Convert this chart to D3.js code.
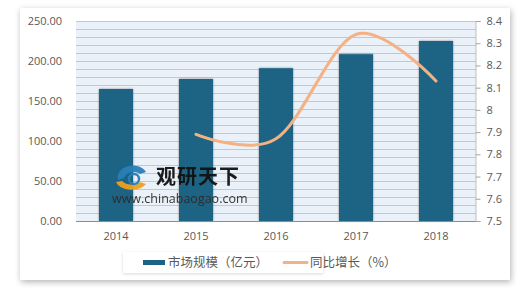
<!doctype html>
<html>
<head>
<meta charset="utf-8">
<script src="https://cdn.jsdelivr.net/npm/d3@7"></script>
<style>
  body { margin: 0; background: #fff; }
  text { font-family: "Open Sans", sans-serif; fill: #595959; }
  .cn { font-family: "Noto Sans CJK SC", sans-serif; }
</style>
</head>
<body>
<script>
// data
var years = ["2014", "2015", "2016", "2017", "2018"];
var marketSize = [165, 177.5, 191, 208.5, 225];      // 市场规模（亿元）
var growth = [null, 7.89, 7.87, 8.34, 8.13];          // 同比增长（%）
var leftTicks = [0, 50, 100, 150, 200, 250];
var rightTicks = [7.5, 7.6, 7.7, 7.8, 7.9, 8, 8.1, 8.2, 8.3, 8.4];

var W = 520, H = 290;
var plot = {left: 76, right: 476, top: 21, bottom: 221};

var svg = d3.select("body").append("svg")
    .attr("width", W).attr("height", H);

var defs = svg.append("defs");
var f = defs.append("filter").attr("id", "card").attr("x", "-5%").attr("y", "-5%").attr("width", "110%").attr("height", "115%");
f.append("feDropShadow").attr("dx", 1).attr("dy", 2).attr("stdDeviation", 3).attr("flood-color", "#000").attr("flood-opacity", 0.3);
var fb = defs.append("filter").attr("id", "barsh").attr("x", "-20%").attr("y", "-5%").attr("width", "140%").attr("height", "110%");
fb.append("feDropShadow").attr("dx", 0).attr("dy", 0).attr("stdDeviation", 1.2).attr("flood-color", "#000").attr("flood-opacity", 0.45);

// card
svg.append("rect")
    .attr("x", 20).attr("y", 8).attr("width", 490).attr("height", 272)
    .attr("fill", "#fff").attr("filter", "url(#card)");

var x = d3.scaleBand().domain(years).range([plot.left, plot.right])
    .paddingInner(0.575).paddingOuter(0.2875);
var yL = d3.scaleLinear().domain([0, 250]).range([plot.bottom, plot.top]);
var yR = d3.scaleLinear().domain([7.5, 8.4]).range([plot.bottom, plot.top]);

// plot background
svg.append("rect")
    .attr("x", plot.left).attr("y", plot.top)
    .attr("width", plot.right - plot.left).attr("height", plot.bottom - plot.top)
    .attr("fill", "#eaf1f8");

// grid lines every 10
svg.append("g").selectAll("line")
    .data(d3.range(10, 251, 10))
  .enter().append("line")
    .attr("x1", plot.left).attr("x2", plot.right)
    .attr("y1", function(d) { return yL(d) + 0.5; })
    .attr("y2", function(d) { return yL(d) + 0.5; })
    .attr("stroke", "#c4c8cd").attr("stroke-width", 1);

// bars
svg.append("g").selectAll("rect")
    .data(marketSize)
  .enter().append("rect")
    .attr("x", function(d, i) { return x(years[i]); })
    .attr("y", function(d) { return yL(d); })
    .attr("width", x.bandwidth())
    .attr("height", function(d) { return plot.bottom - yL(d); })
    .attr("fill", "#1c6384")
    .attr("filter", "url(#barsh)");

// bottom axis line
svg.append("line")
    .attr("x1", plot.left).attr("x2", plot.right)
    .attr("y1", plot.bottom + 0.5).attr("y2", plot.bottom + 0.5)
    .attr("stroke", "#8c8c8c");

// left axis labels
var gl = svg.append("g")
    .attr("transform", "translate(" + (plot.left - 14) + ",0)")
    .call(d3.axisLeft(yL).tickValues(leftTicks).tickFormat(d3.format(".2f")).tickSize(0).tickPadding(0));
gl.select(".domain").remove();
gl.selectAll("text").attr("font-size", 11).attr("font-family", "Open Sans").attr("fill", "#595959");

// right axis
var gr = svg.append("g")
    .attr("transform", "translate(" + (plot.right - 0.5) + ",0)")
    .call(d3.axisRight(yR).tickValues(rightTicks).tickFormat(function(d) { return String(+d.toFixed(1)); }).tickSize(5).tickPadding(6));
gr.select(".domain").attr("stroke", "#bfbfbf");
gr.selectAll("line").attr("stroke", "#a6a6a6");
gr.selectAll("text").attr("font-size", 11).attr("font-family", "Open Sans").attr("fill", "#595959");

// x labels
var gx = svg.append("g")
    .attr("transform", "translate(0," + plot.bottom + ")")
    .call(d3.axisBottom(x).tickSize(0).tickPadding(11));
gx.select(".domain").remove();
gx.selectAll("text").attr("font-size", 11).attr("font-family", "Open Sans").attr("fill", "#595959");

// watermark
var wm = svg.append("g").attr("opacity", 0.95);
wm.append("path")
    .attr("d", "M118,180 A15,12 0 0 1 146,172 L140,174 A10,8 0 0 0 124,178 Z")
    .attr("fill", "#2a7fb8");
wm.append("path")
    .attr("d", "M116,182 A16,10 0 0 0 146,184 L140,182 A11,7 0 0 1 122,181 Z")
    .attr("fill", "#f0a020");
wm.append("circle").attr("cx", 134).attr("cy", 179).attr("r", 5).attr("fill", "none")
    .attr("stroke", "#2a7fb8").attr("stroke-width", 2.5);
wm.append("text").attr("class", "cn")
    .attr("x", 156).attr("y", 184)
    .attr("font-size", 20).attr("font-weight", "bold")
    .style("fill", "#111").attr("letter-spacing", 1)
    .text("观研天下");
wm.append("text")
    .attr("x", 112).attr("y", 203)
    .attr("font-size", 12.5).attr("font-family", "Liberation Sans")
    .style("fill", "#2b2b2b")
    .text("www.chinabaogao.com");

// growth line
var line = d3.line()
    .defined(function(d) { return d != null; })
    .x(function(d, i) { return x(years[i]) + x.bandwidth() / 2; })
    .y(function(d) { return yR(d); })
    .curve(d3.curveCardinal.tension(0));

svg.append("path")
    .datum(growth)
    .attr("d", line)
    .attr("fill", "none")
    .attr("stroke", "#f4b183")
    .attr("stroke-width", 3)
    .attr("stroke-linecap", "round");

// legend
var fl = defs.append("filter").attr("id", "legsh").attr("x", "-5%").attr("y", "-20%").attr("width", "110%").attr("height", "160%");
fl.append("feDropShadow").attr("dx", 0).attr("dy", 1).attr("stdDeviation", 1.5).attr("flood-color", "#000").attr("flood-opacity", 0.15);
svg.append("rect")
    .attr("x", 123).attr("y", 252).attr("width", 200).attr("height", 21)
    .attr("fill", "#fff").attr("filter", "url(#legsh)");

svg.append("rect")
    .attr("x", 143).attr("y", 260).attr("width", 22).attr("height", 5)
    .attr("fill", "#1c6384");
svg.append("text").attr("class", "cn")
    .attr("x", 168).attr("y", 267)
    .attr("font-size", 12.5)
    .text("市场规模（亿元）");

svg.append("line")
    .attr("x1", 284).attr("x2", 307).attr("y1", 262.5).attr("y2", 262.5)
    .attr("stroke", "#f4b183").attr("stroke-width", 3).attr("stroke-linecap", "round");
svg.append("text").attr("class", "cn")
    .attr("x", 310).attr("y", 267)
    .attr("font-size", 12.5)
    .text("同比增长（%）");
</script>
</body>
</html>
